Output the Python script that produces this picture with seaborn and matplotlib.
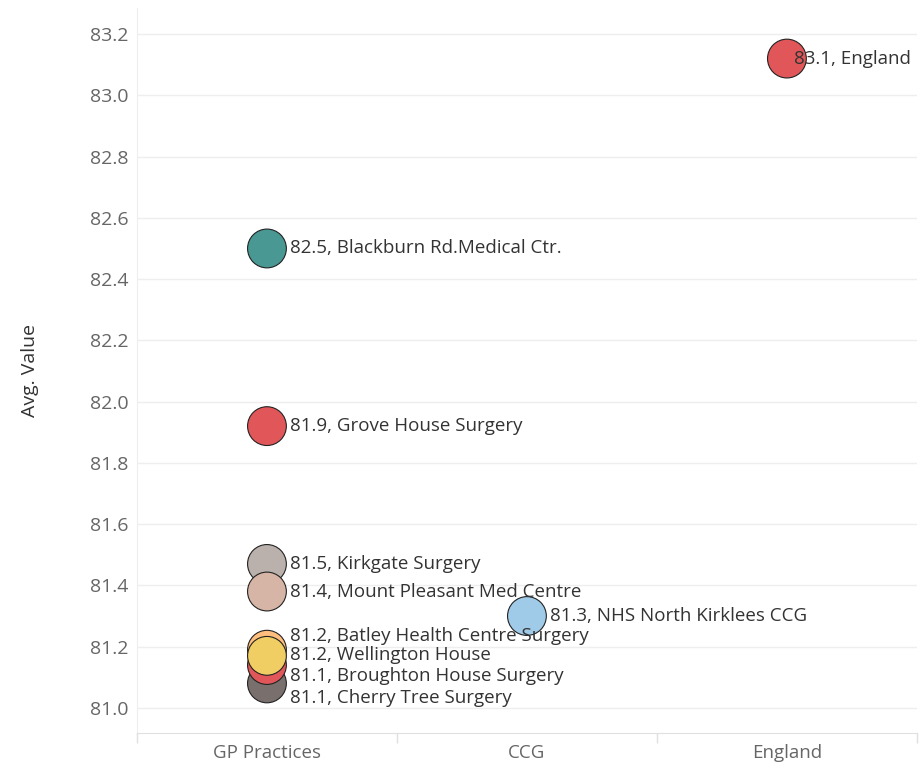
import pandas as pd
import seaborn as sns
import matplotlib.pyplot as plt

# data
groups = ['GP Practices', 'GP Practices', 'GP Practices', 'GP Practices', 'GP Practices',
          'GP Practices', 'GP Practices', 'GP Practices', 'CCG', 'England']
names = ['Blackburn Rd.Medical Ctr.', 'Grove House Surgery', 'Kirkgate Surgery',
         'Mount Pleasant Med Centre', 'Cherry Tree Surgery', 'Broughton House Surgery',
         'Batley Health Centre Surgery', 'Wellington House', 'NHS North Kirklees CCG', 'England']
values = [82.50, 81.92, 81.47, 81.38, 81.08, 81.14, 81.19, 81.17, 81.30, 83.12]
colors = ['#499894', '#E15759', '#BAB0AC', '#D7B5A6', '#79706E', '#E15759',
          '#FFBE7D', '#F1CE63', '#A0CBE8', '#E15759']
# label nudges in pixels (dy positive = down) so the stacked labels don't collide
label_dy = [0, 0, 0, 0, 15, 11, -14, -1, 0, 0]
label_dx = [23, 23, 23, 23, 23, 23, 23, 23, 23, 7]
category_order = ['GP Practices', 'CCG', 'England']

df = pd.DataFrame({'Group': groups, 'Name': names, 'Value': values})

sns.set_style('white')
plt.rcParams['font.family'] = ['Open Sans', 'DejaVu Sans']

fig = plt.figure(figsize=(9.23, 7.65), dpi=100)
ax = fig.add_axes([0.1484, 0.0418, 0.845, 0.9477])

df['x'] = df['Group'].map({c: i for i, c in enumerate(category_order)})
sns.scatterplot(data=df, x='x', y='Value', hue='Name', palette=dict(zip(names, colors)),
                s=780, edgecolor='#222222', linewidth=0.8, legend=False, ax=ax, zorder=3)

for i, row in df.iterrows():
    ax.annotate(f"{row['Value']:.1f}, {row['Name']}", (row['x'], row['Value']),
                xytext=(label_dx[i], -label_dy[i]), textcoords='offset pixels',
                ha='left', va='center', fontsize=13.5, color='#333333', zorder=4)

ax.set_xlim(-0.5, 2.5)
ax.set_ylim(80.918, 83.285)
ax.set_yticks([81.0, 81.2, 81.4, 81.6, 81.8, 82.0, 82.2, 82.4, 82.6, 82.8, 83.0, 83.2])
ax.set_yticklabels([f'{t:.1f}' for t in ax.get_yticks()], fontsize=14, color='#666666')
ax.set_xticks([0, 1, 2])
ax.set_xticklabels(category_order, fontsize=13.5, color='#666666')
ax.tick_params(axis='y', length=0, pad=6)
ax.tick_params(axis='x', length=0, pad=8)
ax.set_xticks([-0.5, 0.5, 1.5, 2.5], minor=True)
ax.tick_params(axis='x', which='minor', bottom=True, length=7, color='#e0e0e0', width=1)
ax.grid(axis='y', color='#eeeeee', linewidth=1)
ax.set_xlabel('')
ax.set_ylabel('Avg. Value', fontsize=14, color='#333333', labelpad=37)

for side in ['top', 'right']:
    ax.spines[side].set_visible(False)
ax.spines['left'].set_color('#eeeeee')
ax.spines['bottom'].set_color('#e0e0e0')

plt.savefig('out.png', dpi=100)
